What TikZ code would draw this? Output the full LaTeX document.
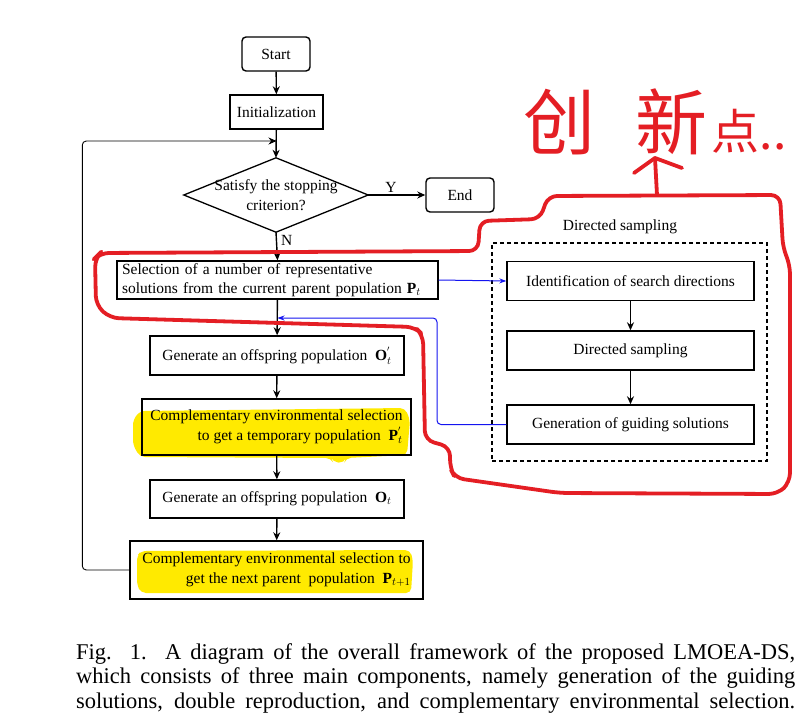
\documentclass[tikz,border=0pt]{standalone}
\usepackage{fontspec}
\setmainfont{Liberation Serif}
\newfontfamily\cjk{Noto Sans CJK SC}
\usetikzlibrary{shapes.geometric,arrows.meta}
\definecolor{hlyellow}{RGB}{255,234,0}
\definecolor{penred}{RGB}{228,30,36}
\definecolor{linkblue}{RGB}{20,20,240}
\begin{document}
\begin{tikzpicture}[x=1pt,y=-1pt,
  boxfont/.style={font=\fontsize{15.5}{19.5}\selectfont},
  capfont/.style={font=\fontsize{22.5}{24.5}\selectfont},
  box/.style={draw, line width=1.4pt, inner sep=0pt, boxfont},
  rbox/.style={box, rounded corners=4pt},
  arr/.style={-{Stealth[length=8pt,width=7pt]}, line width=1.4pt},
  barr/.style={-{Stealth[length=7pt,width=5pt]}, line width=1pt, linkblue},
  redpen/.style={penred, line width=3.8pt, line cap=round, line join=round},
  hl/.style={fill=hlyellow, rounded corners=5pt}]
\fill[white] (0,0) rectangle (812,720);
\useasboundingbox (0,0) rectangle (812,720);

% yellow highlights
\fill[hl] (133,420) -- (140,411) -- (405,408) -- (410,420) -- (407,455) -- (346,458) -- (344,463) -- (333,462) -- (331,458) -- (140,457) -- (133,445) -- cycle;
\fill[hl] (137,556) -- (141,551) -- (410,550) -- (413,560) -- (411,593) -- (141,593) -- (137,585) -- cycle;

% main flow
\node[rbox, minimum width=68pt, minimum height=34pt] (start) at (276,54) {Start};
\node[box, minimum width=93pt, minimum height=34pt] (init) at (276.5,112) {Initialization};
\node[inner sep=0pt, minimum width=184pt, minimum height=74pt, align=center, boxfont] (dec) at (276,195) {Satisfy the stopping\\criterion?};
\draw[line width=1.3pt, line join=miter] (dec.north) -- (dec.east) -- (dec.south) -- (dec.west) -- cycle;
\node[rbox, minimum width=68pt, minimum height=34pt] (end) at (460,195) {End};
\node[box, text width=311pt, inner xsep=5pt, minimum height=38pt, align=left] (sel) at (277.5,280) {Selection of a number of representative\\solutions from the current parent population $\mathbf{P}_t$};
\node[box, minimum width=254pt, minimum height=39pt] (go1) at (277,355.5) {Generate an offspring population\ \ $\mathbf{O}_t^{'}$};
\node[box, minimum width=269pt, minimum height=56pt, align=right] (cs1) at (276.5,427) {Complementary environmental selection\\to get a temporary population\ \ $\mathbf{P}_t^{'}$};
\node[box, minimum width=254pt, minimum height=38pt] (go2) at (277,499) {Generate an offspring population\ \ $\mathbf{O}_t$};
\node[box, minimum width=293pt, minimum height=58pt, align=right] (cs2) at (276.5,570) {Complementary environmental selection to\\get the next parent\ \ population\ \ $\mathbf{P}_{t+1}$};

% directed sampling
\node[draw, dash pattern=on 4pt off 3pt, line width=1.2pt, minimum width=275pt, minimum height=218pt, inner sep=0pt] (ds) at (629.5,352) {};
\node[boxfont, inner sep=0pt] (dslabel) at (620,227) {Directed sampling};
\node[box, minimum width=247pt, minimum height=39pt] (idf) at (630.5,281) {Identification of search directions};
\node[box, minimum width=247pt, minimum height=39pt] (dsm) at (630.5,350.5) {Directed sampling};
\node[box, minimum width=247pt, minimum height=39pt] (gen) at (630.5,424.5) {Generation of guiding solutions};

\coordinate (j) at (276.5,141);
\coordinate (m) at (277.5,318);

% connectors
\draw[arr] (start) -- (init);
\draw[arr] (init) -- (dec.north);
\draw[arr] (dec.east) -- node[above=1pt, pos=0.4, boxfont, inner sep=1pt] (ylab) {Y} (end);
\draw[arr] (dec.south) -- node[right=3pt, pos=0.3, boxfont, inner sep=1pt] (nlab) {N} (sel.north);
\draw[arr] (sel) -- (go1);
\draw[arr] (go1) -- (cs1);
\draw[arr] (cs1) -- (go2);
\draw[arr] (go2) -- (cs2);
\draw[line width=0.9pt, rounded corners=4pt, -{Stealth[length=8pt,width=7pt]}] (cs2.west) -- ++(-47,0) |- (j);
\draw[arr] (idf) -- (dsm);
\draw[arr] (dsm) -- (gen);
\draw[barr] (sel.east) -- (idf.west);
\draw[barr, rounded corners=4pt] (gen.west) -- (437,424.5) |- (m);

% red annotation
\draw[redpen, rounded corners=9pt] (100,253) -- (478,251) -- (480,221) -- (540,219) -- (548,196) -- (780,195) -- (783,248) -- (790,265) -- (790,482) -- (778,494) -- (560,493) -- (455,478) -- (450,468) -- (450,447) -- (425,440) -- (423,335) -- (415,327) -- (110,318) -- (96,305) -- (95,258) -- cycle;
\draw[redpen] (657,195) -- (655,158);
\draw[redpen] (634,173) -- (655,158) -- (682,168);
\node[penred, inner sep=0pt, font=\cjk\fontsize{72}{72}\selectfont] (hw) at (655,122) {创\hspace{40pt}新\hspace{4pt}{\fontsize{48}{48}\selectfont 点..}};

% caption
\node[anchor=base west, inner sep=0pt, capfont] (cap1) at (76,659) {\makebox[719pt][s]{Fig. 1.\ \ A diagram of the overall framework of the proposed LMOEA-DS,}};
\node[anchor=base west, inner sep=0pt, capfont] (cap2) at (76,683.5) {\makebox[719pt][s]{which consists of three main components, namely generation of the guiding}};
\node[anchor=base west, inner sep=0pt, capfont] (cap3) at (76,708) {\makebox[719pt][s]{solutions, double reproduction, and complementary environmental selection.}};
\end{tikzpicture}
\end{document}
